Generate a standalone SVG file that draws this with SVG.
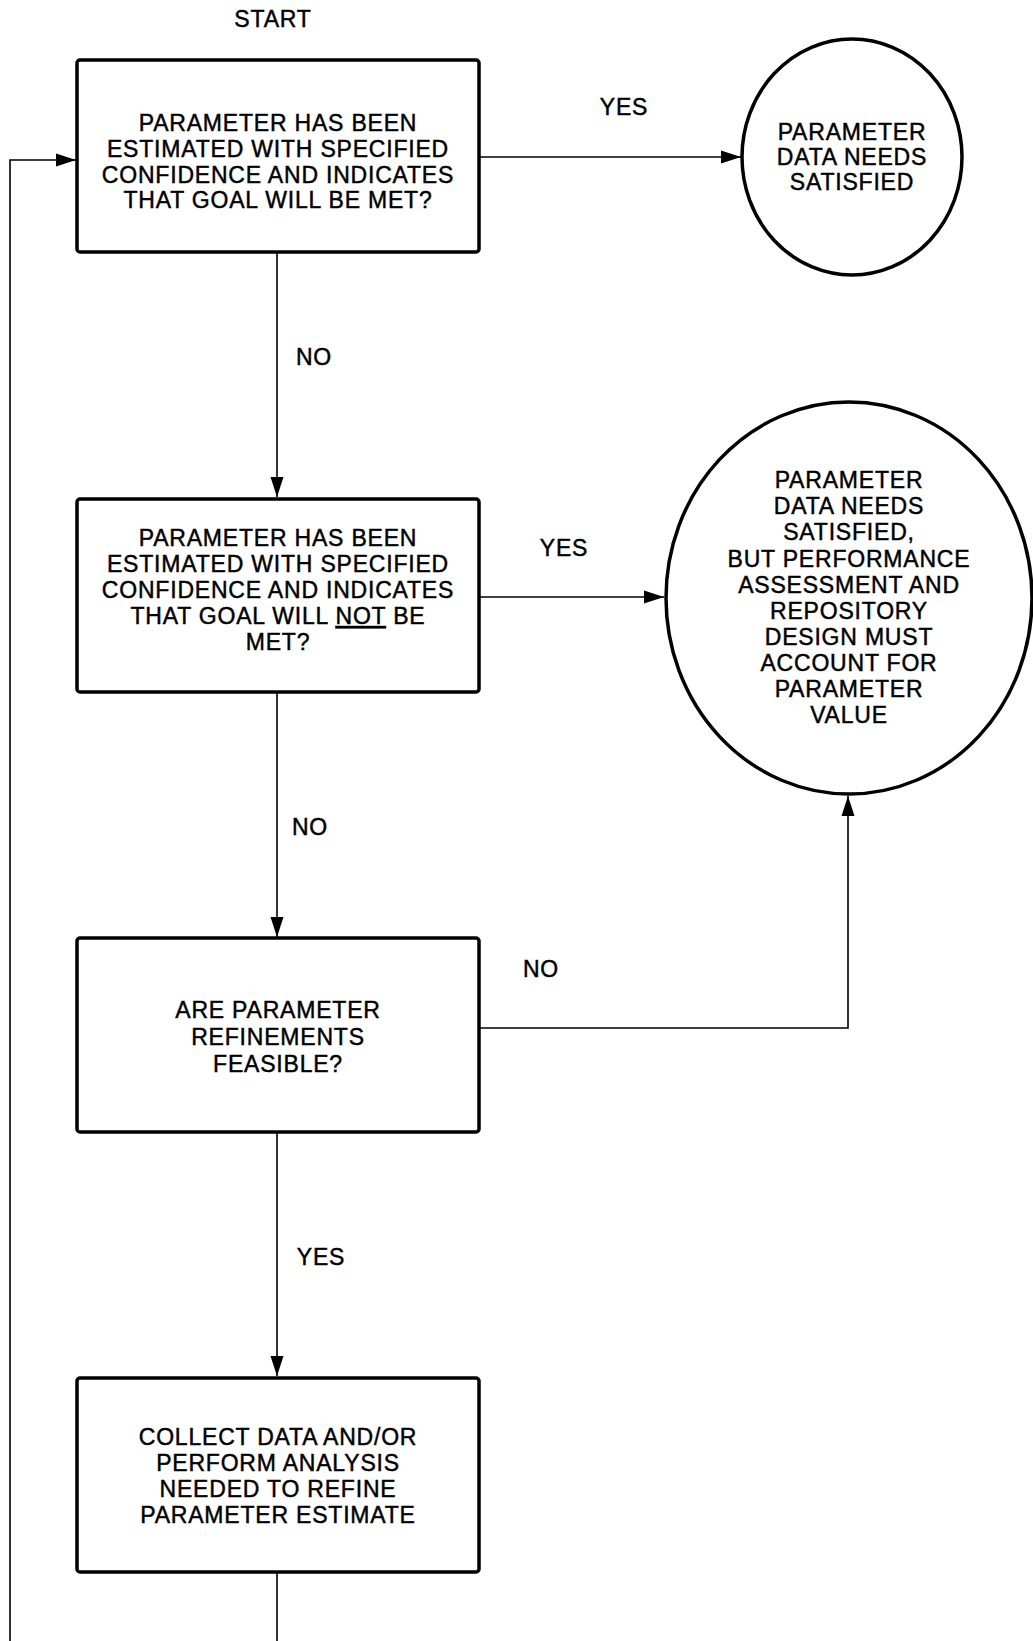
<svg xmlns="http://www.w3.org/2000/svg" width="1033" height="1641" viewBox="0 0 1033 1641">
<style>
.t{font-family:"Liberation Sans",Arial,sans-serif;font-size:23px;letter-spacing:0.8px;fill:#000;stroke:#000;stroke-width:0.45;text-anchor:middle}
.box{fill:#fff;stroke:#000;stroke-width:3.5}
.ln{fill:none;stroke:#000;stroke-width:1.6}
</style>
<defs>
<marker id="ah" markerUnits="userSpaceOnUse" markerWidth="20" markerHeight="14" refX="20" refY="7" orient="auto">
<path d="M0,0.5 L20,7 L0,13.5 Z" fill="#000"/>
</marker>
</defs>
<rect width="1033" height="1641" fill="#fff"/>
<text class="t" x="273" y="27">START</text>
<g id="connectors">
<line class="ln" x1="479" y1="157" x2="741" y2="157" marker-end="url(#ah)"/>
<line class="ln" x1="277" y1="252" x2="277" y2="497" marker-end="url(#ah)"/>
<line class="ln" x1="479" y1="597" x2="664" y2="597" marker-end="url(#ah)"/>
<line class="ln" x1="277" y1="692" x2="277" y2="937" marker-end="url(#ah)"/>
<polyline class="ln" points="479,1028 848,1028 848,796" marker-end="url(#ah)"/>
<line class="ln" x1="277" y1="1132" x2="277" y2="1376" marker-end="url(#ah)"/>
<line class="ln" x1="277" y1="1572" x2="277" y2="1641"/>
<polyline class="ln" points="10,1641 10,160 76,160" marker-end="url(#ah)"/>
<text class="t" x="624" y="115">YES</text>
<text class="t" x="314" y="365">NO</text>
<text class="t" x="564" y="556">YES</text>
<text class="t" x="310" y="835">NO</text>
<text class="t" x="541" y="977">NO</text>
<text class="t" x="321" y="1265">YES</text>
</g>
<g id="n1">
<rect class="box" x="77" y="60" width="402" height="192" rx="3"/>
<text class="t" x="278" y="131">PARAMETER HAS BEEN</text>
<text class="t" x="278" y="157">ESTIMATED WITH SPECIFIED</text>
<text class="t" x="278" y="183">CONFIDENCE AND INDICATES</text>
<text class="t" x="278" y="208">THAT GOAL WILL BE MET?</text>
</g>
<g id="c1">
<ellipse class="box" cx="852" cy="157" rx="110" ry="118"/>
<text class="t" x="852" y="140">PARAMETER</text>
<text class="t" x="852" y="165">DATA NEEDS</text>
<text class="t" x="852" y="190">SATISFIED</text>
</g>
<g id="n2">
<rect class="box" x="77" y="499" width="402" height="193" rx="3"/>
<text class="t" x="278" y="546">PARAMETER HAS BEEN</text>
<text class="t" x="278" y="572">ESTIMATED WITH SPECIFIED</text>
<text class="t" x="278" y="598">CONFIDENCE AND INDICATES</text>
<text class="t" x="278" y="624">THAT GOAL WILL <tspan text-decoration="underline">NOT</tspan> BE</text>
<text class="t" x="278" y="650">MET?</text>
</g>
<g id="c2">
<ellipse class="box" cx="849" cy="598" rx="183" ry="196"/>
<text class="t" x="849" y="488">PARAMETER</text>
<text class="t" x="849" y="514">DATA NEEDS</text>
<text class="t" x="849" y="540">SATISFIED,</text>
<text class="t" x="849" y="567">BUT PERFORMANCE</text>
<text class="t" x="849" y="593">ASSESSMENT AND</text>
<text class="t" x="849" y="619">REPOSITORY</text>
<text class="t" x="849" y="645">DESIGN MUST</text>
<text class="t" x="849" y="671">ACCOUNT FOR</text>
<text class="t" x="849" y="697">PARAMETER</text>
<text class="t" x="849" y="723">VALUE</text>
</g>
<g id="n3">
<rect class="box" x="77" y="938" width="402" height="194" rx="3"/>
<text class="t" x="278" y="1018">ARE PARAMETER</text>
<text class="t" x="278" y="1045">REFINEMENTS</text>
<text class="t" x="278" y="1072">FEASIBLE?</text>
</g>
<g id="n4">
<rect class="box" x="77" y="1378" width="402" height="194" rx="3"/>
<text class="t" x="278" y="1445">COLLECT DATA AND/OR</text>
<text class="t" x="278" y="1471">PERFORM ANALYSIS</text>
<text class="t" x="278" y="1497">NEEDED TO REFINE</text>
<text class="t" x="278" y="1523">PARAMETER ESTIMATE</text>
</g>
</svg>
